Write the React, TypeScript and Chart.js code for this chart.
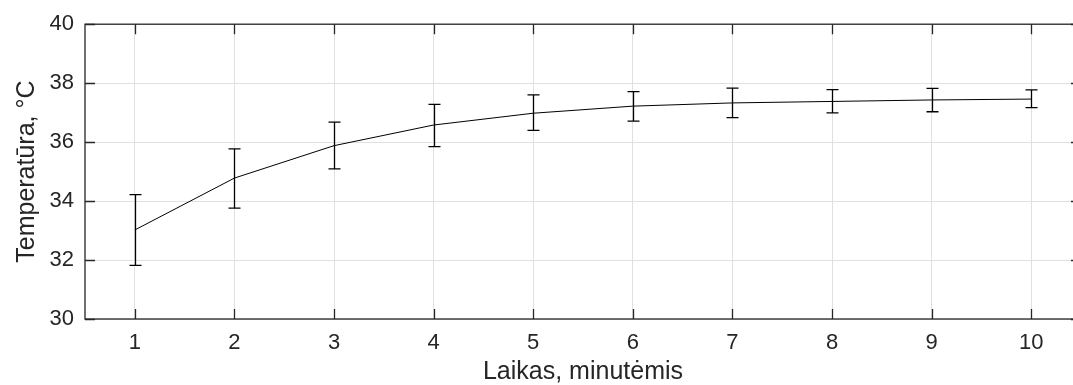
import { useEffect, useRef } from 'react';
import { Chart, registerables } from 'chart.js';

Chart.register(...registerables);

const minutes = [1, 2, 3, 4, 5, 6, 7, 8, 9, 10];
const meanTemp = [33.02, 34.78, 35.88, 36.58, 36.98, 37.22, 37.33, 37.38, 37.43, 37.46];
const upperTemp = [34.22, 35.77, 36.68, 37.28, 37.6, 37.71, 37.83, 37.78, 37.82, 37.77];
const lowerTemp = [31.82, 33.76, 35.09, 35.85, 36.4, 36.71, 36.83, 36.99, 37.03, 37.17];

const xTickValues = [1, 2, 3, 4, 5, 6, 7, 8, 9, 10];
const yTickValues = [30, 32, 34, 36, 38, 40];
const xTitle = 'Laikas, minutėmis';
const yTitle = 'Temperatūra, °C';

const FAMILY = '"Liberation Sans", Arial, Helvetica, sans-serif';
const AXIS = '#262626';
const GRID = '#e0e0e0';

export default function App() {
  const ref = useRef<HTMLCanvasElement>(null);

  useEffect(() => {
    document.body.style.margin = '0';
    const canvas = ref.current;
    if (!canvas) return;

    const errorBars = {
      id: 'errorBars',
      afterDatasetsDraw(chart: any) {
        const { ctx, scales } = chart;
        const xs = scales.x;
        const ys = scales.y;
        ctx.save();
        ctx.strokeStyle = '#000';
        ctx.lineWidth = 1.3;
        const half = 6;
        minutes.forEach((m, i) => {
          const px = Math.round(xs.getPixelForValue(m)) + 0.5;
          const yt = ys.getPixelForValue(upperTemp[i]);
          const yb = ys.getPixelForValue(lowerTemp[i]);
          ctx.beginPath();
          ctx.moveTo(px, yt);
          ctx.lineTo(px, yb);
          ctx.moveTo(px - half, yt);
          ctx.lineTo(px + half, yt);
          ctx.moveTo(px - half, yb);
          ctx.lineTo(px + half, yb);
          ctx.stroke();
        });
        ctx.restore();
      },
    };

    const frame = {
      id: 'frame',
      afterDraw(chart: any) {
        const { ctx, chartArea, scales } = chart;
        const { left, right, top, bottom } = chartArea;
        ctx.save();
        ctx.strokeStyle = AXIS;
        ctx.lineWidth = 1.3;
        ctx.strokeRect(left, top, right - left, bottom - top);
        const tl = 10;
        ctx.beginPath();
        xTickValues.forEach((v) => {
          const px = Math.round(scales.x.getPixelForValue(v)) + 0.5;
          ctx.moveTo(px, bottom);
          ctx.lineTo(px, bottom - tl);
          ctx.moveTo(px, top);
          ctx.lineTo(px, top + tl);
        });
        yTickValues.forEach((v) => {
          const py = Math.round(scales.y.getPixelForValue(v)) + 0.5;
          ctx.moveTo(left, py);
          ctx.lineTo(left + tl, py);
          ctx.moveTo(right, py);
          ctx.lineTo(right - tl, py);
        });
        ctx.stroke();
        ctx.restore();
      },
    };

    const chart = new Chart(canvas, {
      type: 'line',
      data: {
        datasets: [
          {
            data: minutes.map((m, i) => ({ x: m, y: meanTemp[i] })),
            borderColor: '#000',
            borderWidth: 1,
            pointRadius: 0,
            tension: 0,
            fill: false,
          },
        ],
      },
      options: {
        animation: false,
        responsive: false,
        devicePixelRatio: 1,
        layout: { padding: { top: 21, right: 4, left: 0, bottom: 0 } },
        plugins: { legend: { display: false }, tooltip: { enabled: false } },
        scales: {
          x: {
            type: 'linear',
            min: 0.5,
            max: 10.5,
            afterBuildTicks: (s: any) => {
              s.ticks = xTickValues.map((v) => ({ value: v }));
            },
            afterFit: (s: any) => {
              s.height = 66;
            },
            grid: { color: GRID, lineWidth: 1, drawTicks: false },
            border: { display: false },
            ticks: {
              padding: 11,
              autoSkip: false,
              maxRotation: 0,
              color: AXIS,
              font: { family: FAMILY, size: 22 },
            },
            title: {
              display: true,
              text: xTitle,
              color: AXIS,
              font: { family: FAMILY, size: 25, lineHeight: 1 },
              padding: { top: 0, bottom: 0 },
            },
          },
          y: {
            type: 'linear',
            min: 30,
            max: 40,
            afterBuildTicks: (s: any) => {
              s.ticks = yTickValues.map((v) => ({ value: v }));
            },
            afterFit: (s: any) => {
              s.width = 85;
            },
            grid: { color: GRID, lineWidth: 1, drawTicks: false },
            border: { display: false },
            ticks: {
              padding: 11,
              color: AXIS,
              font: { family: FAMILY, size: 22 },
            },
            title: {
              display: true,
              text: yTitle,
              color: AXIS,
              font: { family: FAMILY, size: 25, lineHeight: 1 },
              padding: { top: 15, bottom: 0 },
            },
          },
        },
      },
      plugins: [errorBars, frame],
    } as any);

    return () => chart.destroy();
  }, []);

  return (
    <div style={{ width: 1073, height: 385, overflow: 'hidden', position: 'relative' }}>
      <canvas ref={ref} width={1085} height={385} style={{ display: 'block' }} />
    </div>
  );
}
